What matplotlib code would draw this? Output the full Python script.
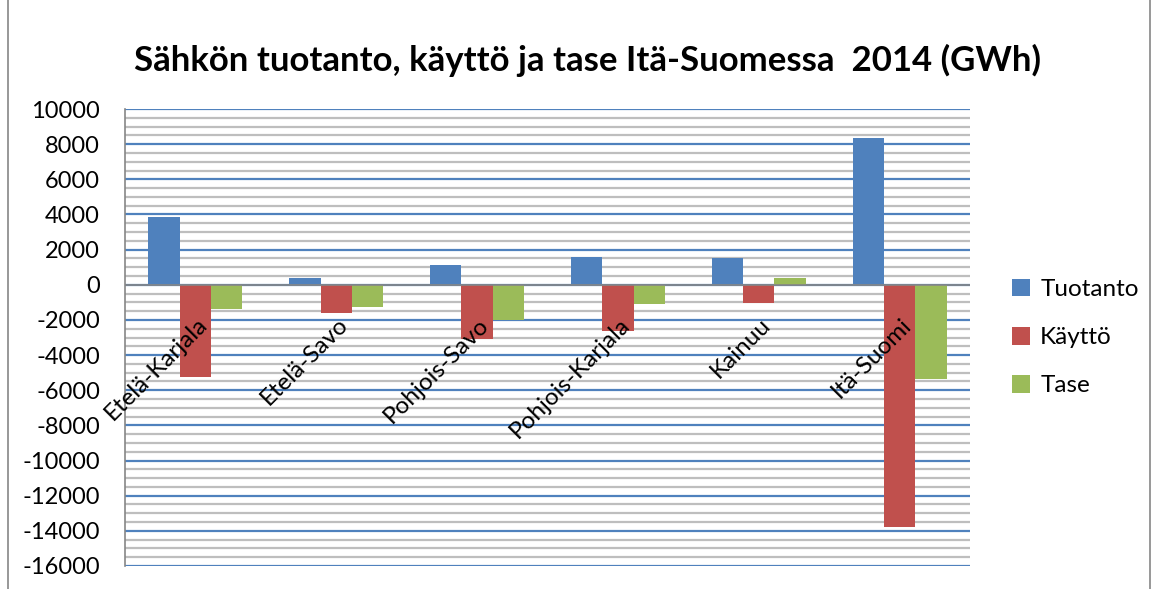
import numpy as np
import matplotlib.pyplot as plt
from matplotlib.ticker import MultipleLocator

plt.rcParams['font.family'] = ['Lato', 'DejaVu Sans']
plt.rcParams['axes.unicode_minus'] = False

# Alueet ja arvot (GWh)
alueet = ['Etelä-Karjala', 'Etelä-Savo', 'Pohjois-Savo', 'Pohjois-Karjala', 'Kainuu', 'Itä-Suomi']
tuotanto = [3840, 370, 1120, 1570, 1510, 8330]
kaytto = [-5230, -1620, -3100, -2630, -1020, -13760]
tase = [-1390, -1245, -2000, -1090, 400, -5380]

sarjat = ['Tuotanto', 'Käyttö', 'Tase']
varit = ['#4F81BD', '#C0504D', '#9BBB59']

fig = plt.figure(figsize=(11.57, 5.89), dpi=100)
ax = fig.add_axes([125 / 1157, 1 - 566 / 589, 845 / 1157, 457 / 589])

x = np.arange(len(alueet))
w = 1 / 4.5
for i, (arvot, nimi, vari) in enumerate(zip([tuotanto, kaytto, tase], sarjat, varit)):
    ax.bar(x + (i - 1) * w, arvot, w, color=vari, label=nimi, zorder=3)

ax.set_xlim(-0.5, len(alueet) - 0.5)
ax.set_ylim(-16000, 10000)
ax.yaxis.set_major_locator(MultipleLocator(2000))
ax.yaxis.set_minor_locator(MultipleLocator(500))
ax.grid(which='major', axis='y', color='#4F81BD', linewidth=1.6, zorder=1)
ax.grid(which='minor', axis='y', color='#BEBEBE', linewidth=1.6, zorder=0)
ax.axhline(0, color='#868686', linewidth=1.2, zorder=4)

ax.set_xticks([])
ax.tick_params(axis='y', which='both', length=0, labelsize=17, pad=18)
for s in ['top', 'right', 'bottom']:
    ax.spines[s].set_visible(False)
ax.spines['left'].set_color('#868686')
ax.spines['left'].set_linewidth(1.2)

# Luokkien nimet vinossa nollaviivan kohdalla
for xi, nimi in zip(x, alueet):
    ax.annotate(nimi, (xi, 0), xytext=(1, -29), textcoords='offset pixels',
                rotation=45, ha='right', va='top', fontsize=17.5,
                rotation_mode='anchor', zorder=5)

fig.text(588 / 1157, 1 - 60 / 589, 'Sähkön tuotanto, käyttö ja tase Itä-Suomessa  2014 (GWh)',
         ha='center', va='center', fontsize=25, fontweight='bold')

ax.legend(loc='center left', bbox_to_anchor=(1.05, 0.5), frameon=False,
          fontsize=17.5, handlelength=0.75, handleheight=0.75, labelspacing=1.1,
          handletextpad=0.4, borderpad=0, borderaxespad=0)

fig.add_artist(plt.Line2D([8 / 1157, 8 / 1157], [0, 1], color='#868686', linewidth=1.2))
fig.add_artist(plt.Line2D([1150 / 1157, 1150 / 1157], [0, 1], color='#868686', linewidth=1.2))

fig.savefig('out.png', dpi=100)
